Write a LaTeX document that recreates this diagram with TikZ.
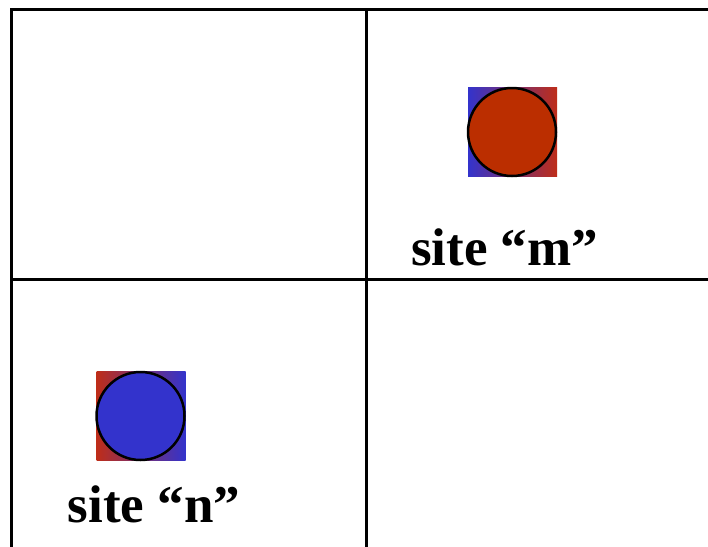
\documentclass[tikz,border=0pt]{standalone}
\usepackage{fontspec}
\setmainfont{Liberation Serif}
\definecolor{sitered}{RGB}{187,46,0}
\definecolor{siteblue}{RGB}{51,51,204}
\definecolor{gradred}{RGB}{190,45,25}
\begin{document}
\begin{tikzpicture}[x=1pt,y=-1pt,
  sitesq/.style={inner sep=0pt,minimum size=89pt},
  sitedot/.style={circle,draw=black,line width=2.5pt,inner sep=0pt,minimum size=88pt},
  sitelabel/.style={anchor=base,font=\fontsize{53}{60}\selectfont\bfseries}]
  \useasboundingbox (0,0) rectangle (708,546);
  \clip (0,0) rectangle (708,546);
  % grid of cells
  \draw[line width=3pt] (11,9) rectangle (740,580);
  \draw[line width=3pt] (366,9) -- (366,580);
  \draw[line width=3pt] (11,279) -- (740,279);
  % site m
  \node[sitesq,left color=siteblue,right color=gradred] (msq) at (512.5,132) {};
  \node[sitedot,fill=sitered] (m) at (512,132) {};
  \node[sitelabel] (mlab) at (504.5,265) {site “m”};
  % site n
  \node[sitesq,left color=gradred,right color=siteblue] (nsq) at (141,416) {};
  \node[sitedot,fill=siteblue] (n) at (140.5,416) {};
  \node[sitelabel] (nlab) at (154,522) {site “n”};
\end{tikzpicture}
\end{document}
